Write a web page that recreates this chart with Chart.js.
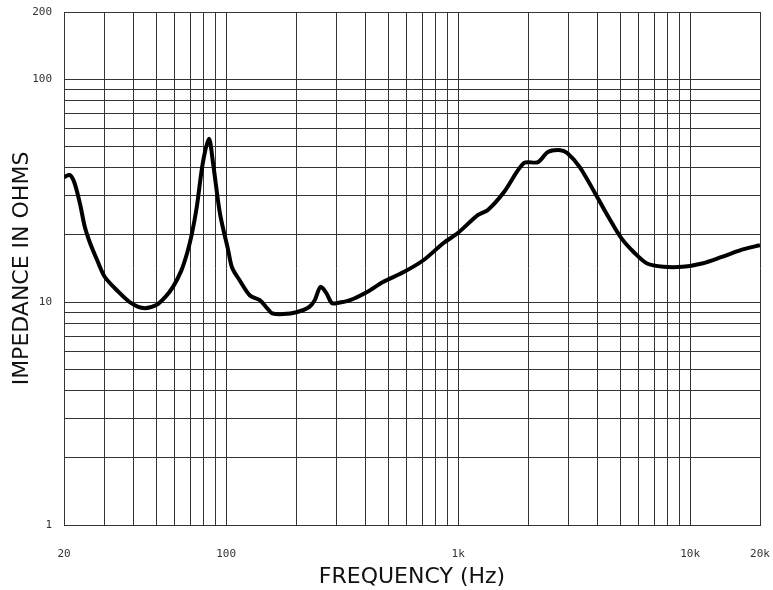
<!DOCTYPE html>
<html>
<head>
<meta charset="utf-8">
<script src="https://cdn.jsdelivr.net/npm/chart.js@4"></script>
<style>
  body { margin: 0; background: #fff; }
  canvas { display: block; }
</style>
</head>
<body>
<canvas id="myChart" width="773" height="590"></canvas>
<script>
// Impedance curve (Hz, ohms)
const freq = [20, 21.2, 22.2, 23.4, 24.6, 25.9, 27.8, 30, 33.8, 38.4, 43.9, 50, 54.5, 59, 64, 67.9, 71, 74.7, 79.3, 84.3, 87.8,
  94, 102, 106, 114.4, 126.6, 139.6, 150, 158, 176, 201, 228, 241, 255, 270, 285, 301, 342, 405, 474, 580, 708, 865, 997,
  1218, 1343, 1574, 1921, 2208, 2437, 2759, 2952, 3342, 3930, 4450, 5040, 5760, 6520, 7670, 9280, 11240, 13600, 16500, 20000];
const ohms = [36.3, 37.1, 34.2, 27.8, 21.7, 18.4, 15.4, 12.95, 11.3, 10.0, 9.4, 9.7, 10.5, 11.7, 13.8, 16.6, 20, 26.7, 42, 54, 42,
  25, 17.1, 14.3, 12.5, 10.7, 10.2, 9.4, 8.9, 8.83, 9.0, 9.5, 10.2, 11.7, 11.0, 9.9, 9.9, 10.2, 11.1, 12.3, 13.6, 15.4, 18.4, 20.4,
  24.6, 25.9, 31.1, 42, 42.4, 47.1, 48, 46.6, 40.3, 30.2, 24, 19.4, 16.6, 14.9, 14.4, 14.4, 14.9, 15.9, 17.1, 18.0];

// grid lines and the few labelled ticks
const xGrid = [20, 30, 40, 50, 60, 70, 80, 90, 100, 200, 300, 400, 500, 600, 700, 800, 900,
  1000, 2000, 3000, 4000, 5000, 6000, 7000, 8000, 9000, 10000, 20000];
const xLabels = { 20: '20', 100: '100', 1000: '1k', 10000: '10k', 20000: '20k' };
const yGrid = [1, 2, 3, 4, 5, 6, 7, 8, 9, 10, 20, 30, 40, 50, 60, 70, 80, 90, 100, 200];
const yLabels = { 1: '1', 10: '10', 100: '100', 200: '200' };

const tickFont = { family: 'DejaVu Sans Mono', size: 11 };
const titleFont = { family: 'DejaVu Sans', size: 22, weight: 'normal' };

var ctx = document.getElementById('myChart').getContext('2d');
var myChart = new Chart(ctx, {
  type: 'line',
  data: {
    datasets: [{
      data: freq.map((f, i) => ({ x: f, y: ohms[i] })),
      borderColor: '#000',
      borderWidth: 4,
      pointRadius: 0,
      tension: 0.3,
      fill: false
    }]
  },
  options: {
    responsive: false,
    animation: false,
    layout: { padding: { top: 12, right: 13, left: 0, bottom: 0 } },
    plugins: { legend: { display: false }, tooltip: { enabled: false } },
    scales: {
      x: {
        type: 'logarithmic',
        min: 20,
        max: 20000,
        afterBuildTicks: (scale) => { scale.ticks = xGrid.map(v => ({ value: v })); },
        afterFit: (scale) => { scale.height = 65; scale.paddingLeft = 0; scale.paddingRight = 0; },
        grid: { color: '#333', lineWidth: 1, drawTicks: false },
        border: { color: '#333' },
        ticks: {
          autoSkip: false,
          maxRotation: 0,
          padding: 23,
          color: '#333',
          font: tickFont,
          callback: (v) => xLabels[v] || ''
        },
        title: {
          display: true,
          text: 'FREQUENCY (Hz)',
          color: '#111',
          font: titleFont,
          padding: { top: 0, bottom: 0 }
        }
      },
      y: {
        type: 'logarithmic',
        min: 1,
        max: 200,
        afterBuildTicks: (scale) => { scale.ticks = yGrid.map(v => ({ value: v })); },
        afterFit: (scale) => { scale.width = 64; scale.paddingTop = 0; scale.paddingBottom = 0; },
        grid: { color: '#333', lineWidth: 1, drawTicks: false },
        border: { color: '#333' },
        ticks: {
          autoSkip: false,
          padding: 12,
          color: '#333',
          font: tickFont,
          callback: (v) => yLabels[v] || ''
        },
        title: {
          display: true,
          text: 'IMPEDANCE IN OHMS',
          color: '#111',
          font: titleFont,
          padding: { top: 9, bottom: 0 }
        }
      }
    }
  }
});
</script>
</body>
</html>
